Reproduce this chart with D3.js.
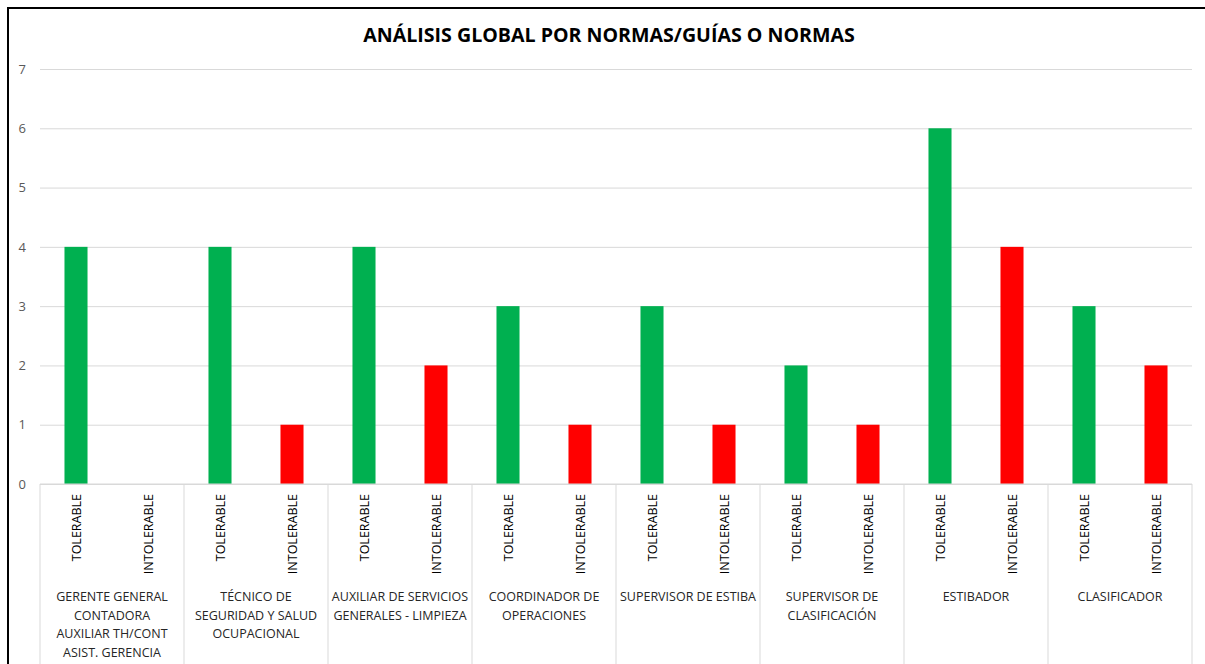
<!DOCTYPE html>
<html>
<head>
<meta charset="utf-8">
<script src="https://cdn.jsdelivr.net/npm/d3@7"></script>
<style>
  body { margin: 0; background: #fff; }
  #chart { width: 1205px; height: 664px; }
  text { font-family: "Open Sans", "Noto Sans", sans-serif; }
</style>
</head>
<body>
<div id="chart"></div>
<script>
// Data
const groups = [
  ["GERENTE GENERAL", "CONTADORA", "AUXILIAR TH/CONT", "ASIST. GERENCIA"],
  ["TÉCNICO DE", "SEGURIDAD Y SALUD", "OCUPACIONAL"],
  ["AUXILIAR DE SERVICIOS", "GENERALES - LIMPIEZA"],
  ["COORDINADOR DE", "OPERACIONES"],
  ["SUPERVISOR DE ESTIBA"],
  ["SUPERVISOR DE", "CLASIFICACIÓN"],
  ["ESTIBADOR"],
  ["CLASIFICADOR"]
];
const levels = ["TOLERABLE", "INTOLERABLE"];
const tolerable = [4, 4, 4, 3, 3, 2, 6, 3];
const intolerable = [0, 1, 2, 1, 1, 1, 4, 2];
const yTicks = [0, 1, 2, 3, 4, 5, 6, 7];
const title = "ANÁLISIS GLOBAL POR NORMAS/GUÍAS O NORMAS";
const colors = { TOLERABLE: "#00B050", INTOLERABLE: "#FF0000" };

const container = d3.select("#chart");
const width = 1205;
const height = 664;
const marginTop = 69;
const marginLeft = 40;
const marginRight = 13;
const chartWidth = width - marginLeft - marginRight;
const chartHeight = 484 - marginTop;

const svg = container.append("svg").attr("width", width).attr("height", height);

// frame
svg.append("path")
  .attr("d", `M8,${height} V8 H${width}`)
  .attr("fill", "none")
  .attr("stroke", "#000")
  .attr("stroke-width", 2);

svg.append("text")
  .attr("x", 609)
  .attr("y", 42)
  .attr("text-anchor", "middle")
  .attr("font-weight", "bold")
  .attr("font-size", 19.6)
  .attr("fill", "#000")
  .text(title);

const g = svg.append("g").attr("transform", `translate(${marginLeft}, ${marginTop})`);

// Scales
const xScale = d3.scaleBand().domain(d3.range(groups.length)).range([0, chartWidth]);
const xInner = d3.scaleBand().domain(levels).range([0, xScale.bandwidth()])
  .paddingInner(0.68).paddingOuter(0.34);
const yScale = d3.scaleLinear().domain([0, 7]).range([chartHeight, 0]);

// grid + y axis
const yaxis = d3.axisLeft(yScale).tickValues(yTicks).tickFormat(d3.format("d"))
  .tickSize(-chartWidth).tickPadding(14);
const yG = g.append("g").call(yaxis);
yG.select(".domain").remove();
yG.selectAll(".tick line").attr("stroke", "#d9d9d9").attr("stroke-width", 1);
yG.selectAll(".tick text").attr("fill", "#595959").attr("font-size", 13);

// bars
const rows = [];
groups.forEach((grp, i) => {
  rows.push({ group: i, level: "TOLERABLE", value: tolerable[i] });
  rows.push({ group: i, level: "INTOLERABLE", value: intolerable[i] });
});

g.append("g")
  .selectAll("rect")
  .data(rows)
  .join("rect")
  .attr("x", (d) => xScale(d.group) + xInner(d.level))
  .attr("width", xInner.bandwidth())
  .attr("y", (d) => yScale(d.value))
  .attr("height", (d) => chartHeight - yScale(d.value))
  .attr("fill", (d) => colors[d.level]);

// category axis
const axisG = g.append("g").attr("transform", `translate(0, ${chartHeight})`);
axisG.append("line")
  .attr("x1", 0).attr("x2", chartWidth)
  .attr("stroke", "#d9d9d9");

axisG.selectAll(".sep")
  .data(d3.range(groups.length + 1))
  .join("line")
  .attr("class", "sep")
  .attr("x1", (i) => i * xScale.step())
  .attr("x2", (i) => i * xScale.step())
  .attr("y1", 0)
  .attr("y2", height - 484)
  .attr("stroke", "#d9d9d9");

axisG.selectAll(".sub")
  .data(rows)
  .join("text")
  .attr("class", "sub")
  .attr("transform", (d) => `translate(${xScale(d.group) + xInner(d.level) + xInner.bandwidth() / 2 + 5}, 10) rotate(-90)`)
  .attr("text-anchor", "end")
  .attr("font-size", 12.5)
  .attr("fill", "#000")
  .text((d) => d.level);

const lbl = axisG.selectAll(".grp")
  .data(groups)
  .join("text")
  .attr("class", "grp")
  .attr("text-anchor", "middle")
  .attr("font-size", 12.5)
  .attr("fill", "#262626")
  .attr("transform", (d, i) => `translate(${xScale(i) + xScale.bandwidth() / 2}, 117)`);

lbl.selectAll("tspan")
  .data((d) => d)
  .join("tspan")
  .attr("x", 0)
  .attr("dy", (d, j) => (j === 0 ? 0 : 18.7))
  .text((d) => d);
</script>
</body>
</html>
